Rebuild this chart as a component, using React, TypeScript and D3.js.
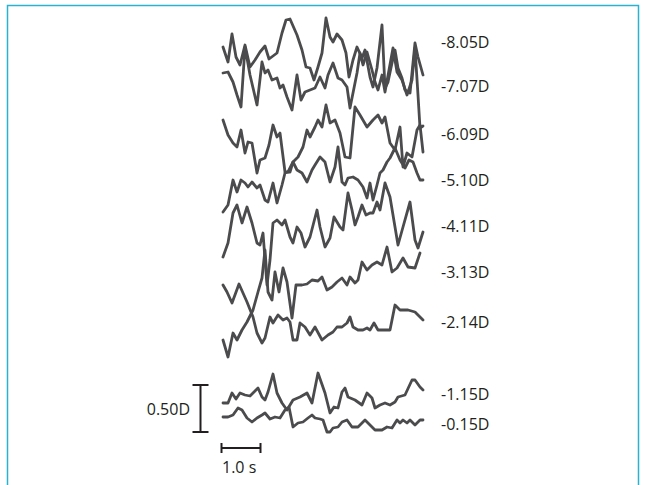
import React from "react";
import * as d3 from "d3";

// Stimulus levels (labels on the right), top to bottom
const LABELS = ["-8.05D", "-7.07D", "-6.09D", "-5.10D", "-4.11D", "-3.13D", "-2.14D", "-1.15D", "-0.15D"];
// Label vertical anchor, in the same response units as the traces
const LABEL_LEVELS = [408, 364, 316, 270, 224, 178, 128, 56, 26];

// Each trace: [frame (39 frames per second), response (raw units, 94 units = 1 D)]
const T805: [number, number][] = [[0,403],[5,388],[9,416],[13,393],[17,385],[22,405],[27,383],[32,390],[37,398],[42,404],[46,391],[54,397],[59,417],[63,430],[67,431],[74,415],[79,400],[83,383],[87,382],[91,370],[95,383],[99,397],[103,432],[107,413],[110,408],[114,416],[119,410],[123,397],[126,373],[130,390],[134,403],[139,392],[142,400],[147,373],[150,363],[154,382],[159,425],[162,362],[165,368],[169,387],[172,400],[175,382],[179,372],[182,360],[187,357],[192,407],[195,393],[200,375]];
const T707: [number, number][] = [[0,377],[5,378],[10,368],[14,355],[18,343],[22,403],[27,375],[34,345],[39,388],[42,377],[45,380],[49,370],[54,372],[57,362],[60,365],[64,353],[69,340],[74,375],[78,350],[82,358],[87,360],[92,362],[97,373],[102,362],[105,375],[110,387],[115,372],[119,370],[124,363],[127,342],[130,357],[134,377],[137,397],[140,385],[144,398],[149,380],[152,368],[155,360],[159,375],[162,358],[166,380],[170,402],[174,378],[179,370],[184,355],[189,370],[192,402],[195,355],[197,322],[200,324]];
const T609: [number, number][] = [[0,330],[5,315],[10,307],[14,303],[18,320],[22,297],[25,308],[29,307],[34,277],[37,290],[42,292],[46,305],[50,325],[54,313],[57,317],[62,278],[67,278],[70,288],[75,293],[80,303],[84,320],[87,313],[92,323],[95,330],[99,323],[103,345],[107,327],[112,330],[117,317],[122,293],[127,292],[132,343],[137,335],[144,323],[150,330],[155,335],[159,327],[162,333],[167,307],[172,300],[177,323],[180,283],[184,297],[189,293],[194,320],[197,325],[200,298]];
const T510: [number, number][] = [[0,238],[5,245],[10,270],[14,258],[18,270],[22,267],[25,263],[29,268],[34,262],[37,265],[42,250],[45,248],[50,267],[54,247],[59,265],[62,277],[65,278],[70,288],[74,280],[79,277],[84,268],[89,280],[92,285],[97,293],[102,288],[107,268],[112,283],[115,303],[119,268],[122,265],[125,272],[130,273],[135,270],[140,263],[144,252],[147,267],[150,250],[154,265],[157,277],[160,280],[164,288],[167,292],[172,302],[177,290],[182,282],[186,290],[190,288],[194,277],[197,270],[200,270]];
const T411: [number, number][] = [[0,193],[5,207],[10,237],[14,245],[19,227],[24,243],[29,227],[34,207],[37,205],[40,217],[44,165],[47,190],[50,227],[54,230],[59,225],[62,230],[67,213],[70,207],[74,223],[78,217],[82,203],[87,213],[94,240],[97,223],[102,203],[107,212],[111,233],[117,223],[120,220],[125,257],[129,240],[132,225],[135,233],[139,245],[143,235],[147,237],[150,237],[154,248],[157,240],[162,267],[167,253],[172,223],[175,205],[180,223],[187,248],[192,210],[195,202],[200,218]];
const T313: [number, number][] = [[0,110],[5,93],[10,117],[14,110],[19,120],[24,128],[30,140],[35,158],[39,172],[42,200],[45,158],[49,150],[52,178],[56,158],[60,182],[64,168],[69,132],[73,165],[79,165],[84,166],[89,170],[95,169],[99,173],[104,160],[109,163],[114,168],[119,172],[124,165],[127,173],[132,167],[135,170],[139,188],[144,180],[149,185],[154,188],[159,185],[164,203],[169,178],[174,182],[180,192],[185,183],[192,182],[197,197]];
const T214: [number, number][] = [[0,165],[4,158],[9,147],[16,166],[24,148],[30,133],[34,117],[39,107],[42,112],[47,133],[50,127],[55,135],[60,130],[64,132],[67,128],[70,110],[74,110],[77,127],[82,123],[87,115],[92,123],[99,110],[105,115],[110,118],[114,123],[119,123],[124,127],[127,133],[130,123],[135,120],[140,120],[144,122],[147,120],[151,127],[155,120],[160,120],[167,120],[172,145],[177,140],[185,140],[192,138],[200,130]];
const T115: [number, number][] = [[0,47],[5,47],[9,57],[13,51],[17,57],[22,55],[27,54],[32,59],[35,62],[39,53],[42,50],[45,58],[50,76],[54,57],[59,47],[64,40],[70,50],[77,53],[84,57],[89,47],[95,77],[102,57],[107,37],[111,43],[115,42],[119,58],[122,62],[125,53],[132,50],[139,45],[144,57],[149,52],[152,42],[157,45],[162,47],[167,45],[172,48],[175,53],[182,55],[189,70],[192,70],[197,63],[200,60]];
const T015: [number, number][] = [[0,33],[5,33],[10,35],[15,42],[19,40],[24,32],[29,28],[34,32],[39,35],[42,37],[47,31],[52,33],[57,32],[62,40],[66,43],[70,23],[75,27],[80,28],[85,32],[89,35],[92,32],[97,31],[100,30],[104,18],[107,18],[110,22],[115,23],[119,28],[124,30],[129,23],[135,23],[142,30],[147,25],[152,20],[159,20],[164,23],[169,22],[174,30],[177,27],[180,30],[184,27],[187,30],[192,25],[197,30],[200,30]];

const TRACES = [T805, T707, T609, T510, T411, T313, T214, T115, T015];

const FRAMES_PER_SECOND = 39;
const UNITS_PER_D = 94;
const SCALE_BAR_D = 0.5;
const SCALE_BAR_S = 1.0;

const W = 646;
const H = 485;

export default function App() {
  const x = d3.scaleLinear().domain([0, 202]).range([223, 425]);
  const y = d3.scaleLinear().domain([0, 450]).range([450, 0]);
  const line = d3
    .line<[number, number]>()
    .x((d) => x(d[0]))
    .y((d) => y(d[1]));

  const ink = "#4b4b4d";
  const textColor = "#231f20";
  const font = "'Open Sans', 'Noto Sans', sans-serif";

  // vertical scale bar (0.50 D)
  const vbX = 200.5;
  const vbTop = 385;
  const vbBottom = vbTop + (y(0) - y(SCALE_BAR_D * UNITS_PER_D));
  // horizontal scale bar (1.0 s)
  const hbY = 448;
  const hbLeft = x(0) - 1.5;
  const hbRight = hbLeft + (x(SCALE_BAR_S * FRAMES_PER_SECOND) - x(0));

  return (
    <svg
      width={W}
      height={H}
      viewBox={`0 0 ${W} ${H}`}
      style={{ position: "absolute", left: 0, top: 0, background: "#fff" }}
    >
      <path d={`M7.5,${H} V5.5 H638.5 V${H}`} fill="none" stroke="#2bb2d0" strokeWidth={1.5} />

      {TRACES.map((t, i) => (
        <path
          key={i}
          d={line(t) || ""}
          fill="none"
          stroke={ink}
          strokeWidth={2.8}
          strokeLinejoin="round"
          strokeLinecap="round"
        />
      ))}

      {LABELS.map((l, i) => (
        <text
          key={l}
          x={441}
          y={y(LABEL_LEVELS[i]) + 6}
          fontFamily={font}
          fontSize={16}
          fill={textColor}
        >
          {l}
        </text>
      ))}

      {/* 0.50 D scale bar */}
      <g stroke={textColor} strokeWidth={2} fill="none">
        <line x1={vbX} x2={vbX} y1={vbTop} y2={vbBottom} />
        <line x1={vbX - 8} x2={vbX + 8} y1={vbTop} y2={vbTop} />
        <line x1={vbX - 8} x2={vbX + 8} y1={vbBottom} y2={vbBottom} />
      </g>
      <text x={190} y={415} textAnchor="end" fontFamily={font} fontSize={16} fill={textColor}>
        0.50D
      </text>

      {/* 1.0 s scale bar */}
      <g stroke={textColor} strokeWidth={2} fill="none">
        <line x1={hbLeft} x2={hbRight} y1={hbY} y2={hbY} />
        <line x1={hbLeft} x2={hbLeft} y1={hbY - 5} y2={hbY + 5} />
        <line x1={hbRight} x2={hbRight} y1={hbY - 5} y2={hbY + 5} />
      </g>
      <text x={222} y={473} fontFamily={font} fontSize={16} fill={textColor}>
        1.0 s
      </text>
    </svg>
  );
}
